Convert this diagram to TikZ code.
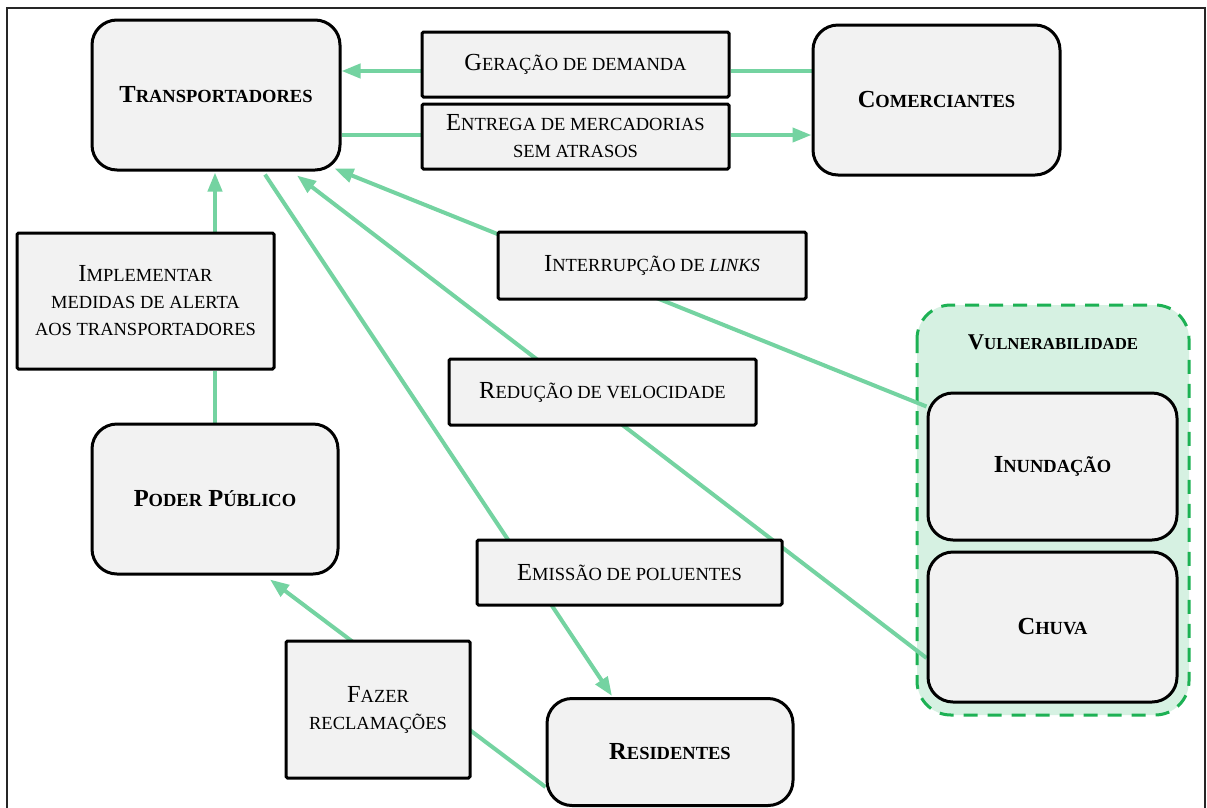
\documentclass[tikz,border=0pt]{standalone}
\usepackage{fontspec}
\setmainfont{Liberation Serif}
\usetikzlibrary{arrows.meta}

\definecolor{boxgray}{HTML}{F2F2F2}
\definecolor{linkgreen}{HTML}{74D3A1}
\definecolor{vulnline}{HTML}{1DB154}
\definecolor{vulnfill}{HTML}{D6F1E2}

% caps at full size, lowercase drawn as reduced capitals
\newcommand{\bigsz}{\fontsize{24.5pt}{27pt}\selectfont}
\newcommand{\sm}[1]{{\fontsize{18.5pt}{27pt}\selectfont #1}}

\pgfdeclarelayer{back}
\pgfdeclarelayer{lines}
\pgfsetlayers{back,lines,main}

\tikzset{
  actor/.style={draw=black, line width=3pt, fill=boxgray, rounded corners=25pt,
    minimum width=246pt, minimum height=150pt, inner sep=0pt, align=center,
    font=\bigsz\bfseries},
  action/.style={draw=black, line width=3pt, fill=boxgray, rounded corners=1.5pt,
    inner sep=0pt, align=center, font=\bigsz},
  link/.style={draw=linkgreen, line width=4pt},
  flow/.style={link, -{Triangle[length=19pt,width=14pt]}},
}

\begin{document}
\begin{tikzpicture}[x=1pt, y=-1pt]
\useasboundingbox (0,0) rectangle (1207,807);

% page, frame and the vulnerability group
\begin{pgfonlayer}{back}
  \fill[white] (0,0) rectangle (1207,807);
  \draw[line width=2pt, black!85] (7,8) rectangle (1205,820);
  \draw[vulnline, fill=vulnfill, line width=3pt, dash pattern=on 14pt off 10pt,
    rounded corners=34pt] (917,305) rectangle (1189,715);
\end{pgfonlayer}

% actors
\node[actor, minimum width=248pt] (trans) at (216,95) {T\sm{RANSPORTADORES}};
\node[actor, minimum width=247pt] (com) at (936.5,100) {C\sm{OMERCIANTES}};
\node[actor] (poder) at (215,499) {P\sm{ODER} P\sm{ÚBLICO}};
\node[actor, minimum height=107pt] (res) at (670,752) {R\sm{ESIDENTES}};

\node[font=\fontsize{22.5pt}{27pt}\selectfont\bfseries] (vtitle) at (1053,342)
  {V{\fontsize{16.8pt}{27pt}\selectfont ULNERABILIDADE}};
\node[actor, minimum width=249pt, minimum height=147pt] (inund) at (1052.5,466.5) {I\sm{NUNDAÇÃO}};
\node[actor, minimum width=249pt] (chuva) at (1052.5,627) {C\sm{HUVA}};

% relations
\node[action, minimum width=307pt, minimum height=65pt] (ger) at (575.5,64.5) {G\sm{ERAÇÃO DE DEMANDA}};
\node[action, minimum width=307pt, minimum height=65pt] (ent) at (575.5,136.5)
  {E\sm{NTREGA DE MERCADORIAS}\\\sm{SEM ATRASOS}};
\node[action, minimum width=257pt, minimum height=136pt] (impl) at (145.5,301)
  {I\sm{MPLEMENTAR}\\\sm{MEDIDAS DE ALERTA}\\\sm{AOS TRANSPORTADORES}};
\node[action, minimum width=308pt, minimum height=67pt] (intr) at (652,265.5)
  {I\sm{NTERRUPÇÃO DE \textit{LINKS}}};
\node[action, minimum width=307pt, minimum height=66pt] (red) at (602.5,392)
  {R\sm{EDUÇÃO DE VELOCIDADE}};
\node[action, minimum width=305pt, minimum height=65pt] (emi) at (629.5,572.5)
  {E\sm{MISSÃO DE POLUENTES}};
\node[action, minimum width=184pt, minimum height=137pt] (faz) at (378,709.5)
  {F\sm{AZER}\\\sm{RECLAMAÇÕES}};

% connectors, kept underneath the boxes
\begin{pgfonlayer}{lines}
  \coordinate (gy) at (0,71);
  \coordinate (ey) at (0,135);
  \draw[link] (com.west |- gy) -- (ger.east |- gy);
  \draw[flow] (ger.west |- gy) -- (trans.east |- gy);
  \draw[link] (trans.east |- ey) -- (ent.west |- ey);
  \draw[flow] (ent.east |- ey) -- (com.west |- ey);
  \draw[link] (poder.north) -- (impl.south -| poder.north);
  \draw[flow] (impl.north -| poder.north) -- ([yshift=-1pt]trans.south -| poder.north);
  \draw[flow] ([yshift=-15pt]inund.north west) -- ([xshift=-7pt,yshift=3pt]trans.south east);
  \draw[flow] ([yshift=-31pt]chuva.west) -- ([xshift=81pt,yshift=-4pt]trans.south);
  \draw[flow] ([xshift=49pt,yshift=-3pt]trans.south) -- ([xshift=-58pt,yshift=1pt]res.north);
  \draw[flow] ([yshift=-35pt]res.west) -- ([xshift=55pt,yshift=-4pt]poder.south);
\end{pgfonlayer}
\end{tikzpicture}
\end{document}
